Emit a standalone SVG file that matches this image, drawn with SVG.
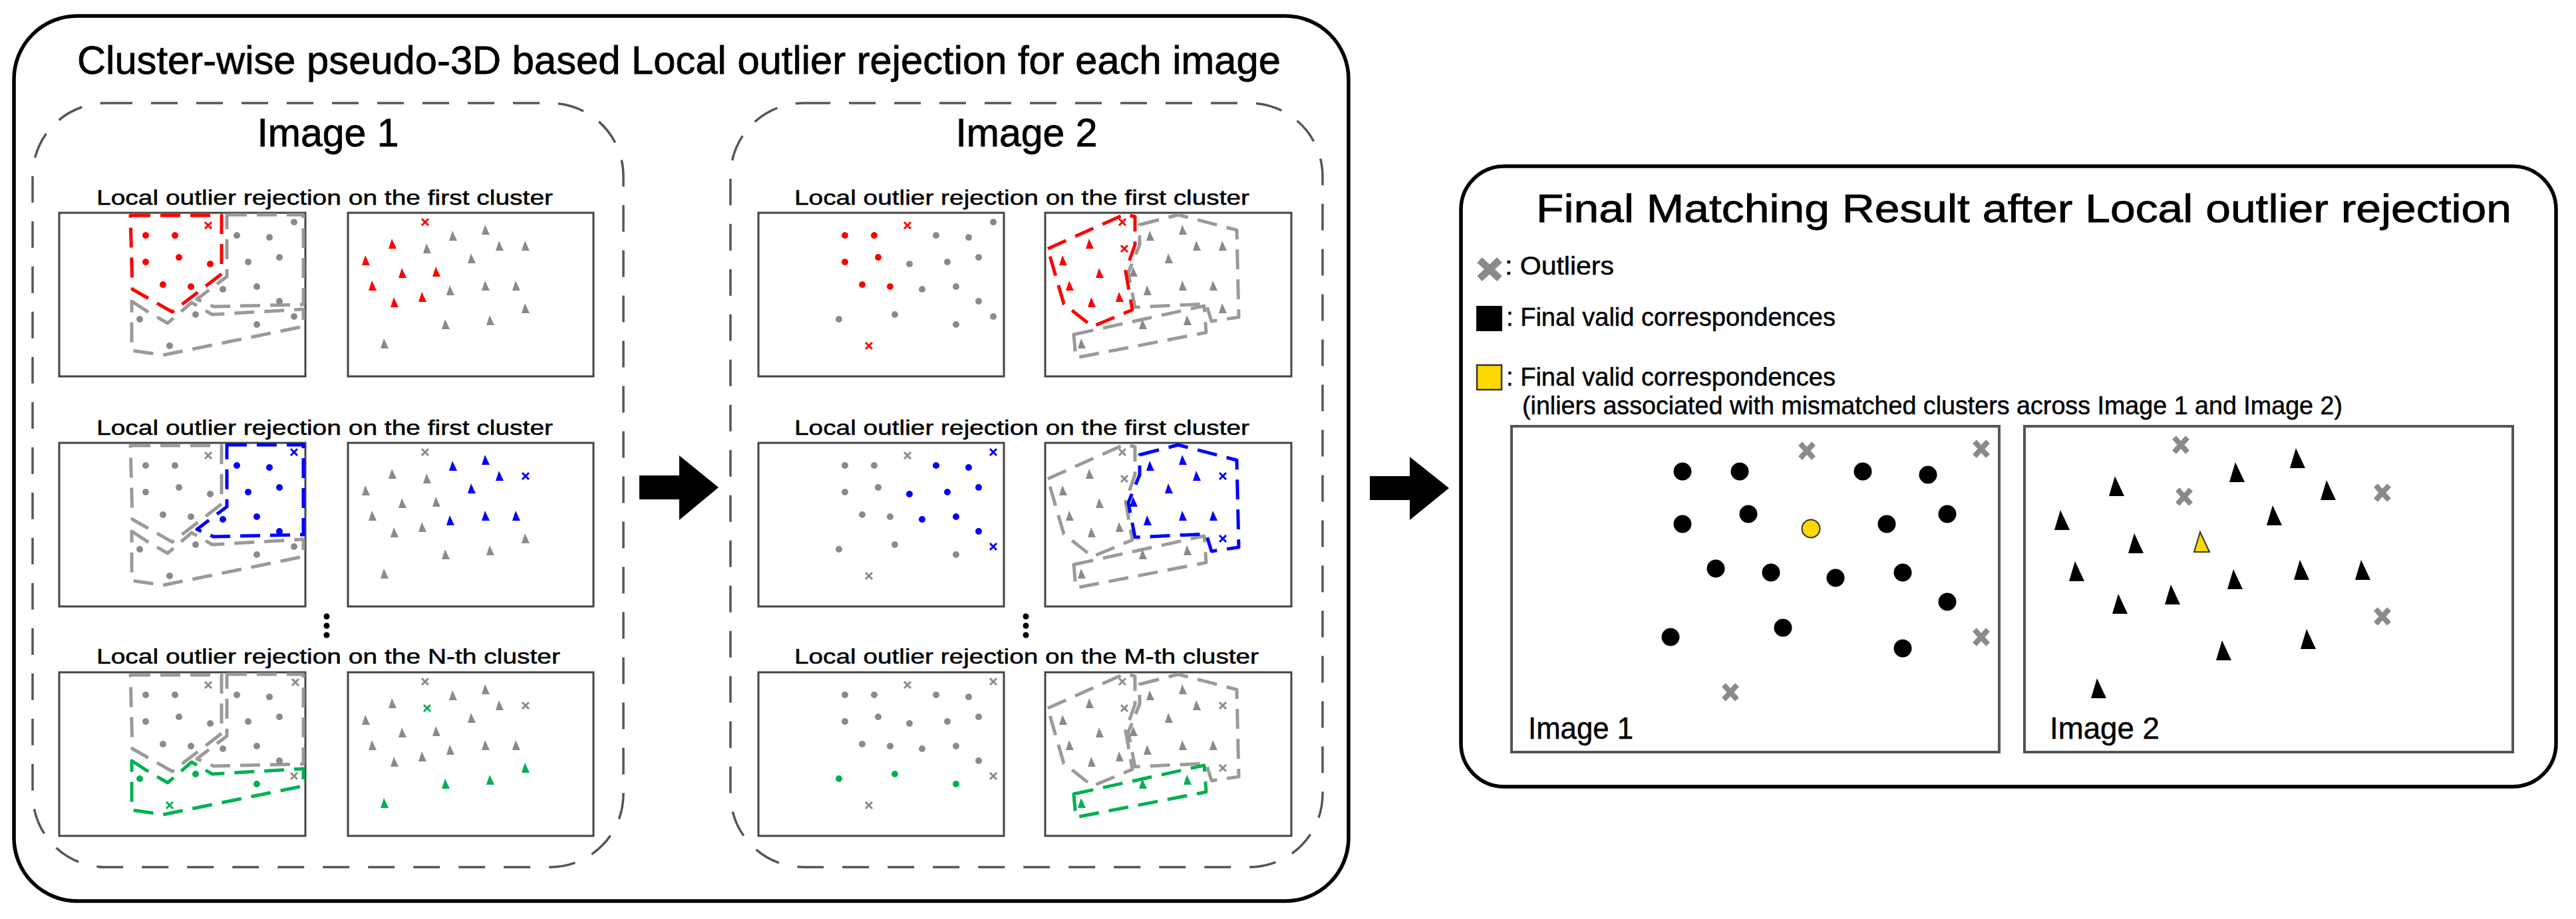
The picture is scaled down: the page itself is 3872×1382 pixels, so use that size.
<svg xmlns="http://www.w3.org/2000/svg" width="3872" height="1382" viewBox="0 0 3872 1382">
<style>
text{font-family:"Liberation Sans",Arial,sans-serif;fill:#000}
.big{font-size:59px;stroke:#000;stroke-width:0.8}
.lbl{font-size:32px;stroke:#000;stroke-width:0.5}
.leg{font-size:38px;stroke:#000;stroke-width:0.5}
.fimg{font-size:46px;stroke:#000;stroke-width:0.5}
.box{fill:none;stroke:#000;stroke-width:5.5}
.dash{fill:none;stroke:#555;stroke-width:3.5;stroke-dasharray:40 28}
.pnl{fill:#fff;stroke:#444;stroke-width:3}
.fpnl{fill:#fff;stroke:#555;stroke-width:4}
.cg{fill:#8a8a8a}.cr{fill:#ff0000}.cb{fill:#0000ff}.cn{fill:#00b050}.ck{fill:#000}
.xg{stroke:#8a8a8a}.xr{stroke:#ff0000}.xb{stroke:#0000ff}.xn{stroke:#00b050}
.pg,.pr,.pb,.pn{fill:none;stroke-width:5;stroke-dasharray:30 15;stroke-linejoin:round}
.pg{stroke:#9a9a9a}.pr{stroke:#ff0000}.pb{stroke:#0000ff}.pn{stroke:#00b050}
.arrow{fill:#000}
</style>
<defs>
<circle id="d" r="5"/>
<path id="x" d="M-5,-5L5,5M5,-5L-5,5" fill="none" stroke-width="3"/>
<path id="t" d="M-1,-8L6,7L-6,7Z"/>
<circle id="D" r="13.5"/>
<path id="T" d="M-2,-16L12,14L-11,14Z"/>
<path id="X" d="M-10,-11L10,11M10,-11L-10,11" fill="none" stroke="#8a8a8a" stroke-width="8"/>
<polygon id="c1" points="107,4 244,4 244,92 170,149 110,115"/>
<polygon id="c2" points="252,3 367,3 367,138 232,141 207,130 252,96"/>
<polygon id="cN" points="109,133 135,150 163,166 199,135 230,153 367,145 367,171 156,214 109,207"/>
<polygon id="k1" points="4,54 120,2 135,6 135,48 121,88 131,146 71,171 28,137 12,82"/>
<polygon id="k2" points="142,18 200,3 288,26 291,157 250,163 242,137 135,142 125,90 142,48"/>
<polygon id="k3" points="43,183 239,140 242,180 46,218"/>
</defs>
<rect width="3872" height="1382" fill="#fff"/>

<g id="left-box">
<rect class="box" x="21" y="24" width="2006" height="1331" rx="95" ry="95"/>
<text class="big" x="116" y="111" textLength="1809" lengthAdjust="spacingAndGlyphs">Cluster-wise pseudo-3D based Local outlier rejection for each image</text>
</g>

<g id="image1-group">
<rect class="dash" x="49" y="155" width="888" height="1149" rx="110" ry="110"/>
<text class="big" x="493" y="220" text-anchor="middle">Image 1</text>
<text class="lbl" x="145" y="308" textLength="686" lengthAdjust="spacingAndGlyphs">Local outlier rejection on the first cluster</text>
<text class="lbl" x="145" y="654" textLength="686" lengthAdjust="spacingAndGlyphs">Local outlier rejection on the first cluster</text>
<text class="lbl" x="145" y="998" textLength="697" lengthAdjust="spacingAndGlyphs">Local outlier rejection on the N-th cluster</text>
<g class="ck"><circle cx="491" cy="927" r="4.5"/><circle cx="491" cy="941" r="4.5"/><circle cx="491" cy="955" r="4.5"/></g>
</g>

<g id="img1-row1-left" transform="translate(89,320)">
<rect class="pnl" width="370" height="246"/>
<use href="#c2" class="pg"/><use href="#cN" class="pg"/><use href="#c1" class="pr"/>
<g class="cr"><use href="#d" x="130" y="34"/><use href="#d" x="174" y="34"/><use href="#d" x="130" y="74"/><use href="#d" x="180" y="67"/><use href="#d" x="227" y="77"/><use href="#d" x="156" y="108"/><use href="#d" x="198" y="111"/></g>
<g class="cg"><use href="#d" x="267" y="34"/><use href="#d" x="316" y="37"/><use href="#d" x="284" y="74"/><use href="#d" x="331" y="67"/><use href="#d" x="246" y="115"/><use href="#d" x="297" y="111"/><use href="#d" x="331" y="133"/><use href="#d" x="121" y="160"/><use href="#d" x="205" y="153"/><use href="#d" x="297" y="168"/><use href="#d" x="353" y="14"/><use href="#d" x="353" y="156"/><use href="#d" x="166" y="200"/></g>
<g class="xr"><use href="#x" x="224" y="19"/></g>
</g>

<g id="img1-row1-right" transform="translate(523,320)">
<rect class="pnl" width="369" height="246"/>
<g class="cr"><use href="#t" x="67" y="47"/><use href="#t" x="27" y="72"/><use href="#t" x="82" y="91"/><use href="#t" x="133" y="89"/><use href="#t" x="37" y="110"/><use href="#t" x="112" y="127"/><use href="#t" x="70" y="135"/></g>
<g class="cg"><use href="#t" x="207" y="26"/><use href="#t" x="158" y="35"/><use href="#t" x="228" y="50"/><use href="#t" x="186" y="69"/><use href="#t" x="207" y="110"/><use href="#t" x="253" y="110"/><use href="#t" x="154" y="117"/><use href="#t" x="214" y="162"/><use href="#t" x="147" y="168"/><use href="#t" x="55" y="197"/><use href="#t" x="119" y="54"/><use href="#t" x="267" y="50"/><use href="#t" x="267" y="144"/></g>
<g class="xr"><use href="#x" x="116" y="14"/></g>
</g>

<g id="img1-row2-left" transform="translate(89,666)">
<rect class="pnl" width="370" height="246"/>
<use href="#c1" class="pg"/><use href="#cN" class="pg"/><use href="#c2" class="pb"/>
<g class="cb"><use href="#d" x="267" y="34"/><use href="#d" x="316" y="37"/><use href="#d" x="284" y="74"/><use href="#d" x="331" y="67"/><use href="#d" x="246" y="115"/><use href="#d" x="297" y="111"/><use href="#d" x="331" y="133"/></g>
<g class="cg"><use href="#d" x="130" y="34"/><use href="#d" x="174" y="34"/><use href="#d" x="130" y="74"/><use href="#d" x="180" y="67"/><use href="#d" x="227" y="77"/><use href="#d" x="156" y="108"/><use href="#d" x="198" y="111"/><use href="#d" x="121" y="160"/><use href="#d" x="205" y="153"/><use href="#d" x="297" y="168"/><use href="#d" x="353" y="156"/><use href="#d" x="166" y="200"/></g>
<g class="xg"><use href="#x" x="224" y="19"/></g>
<g class="xb"><use href="#x" x="353" y="14"/></g>
</g>

<g id="img1-row2-right" transform="translate(523,666)">
<rect class="pnl" width="369" height="246"/>
<g class="cb"><use href="#t" x="207" y="26"/><use href="#t" x="158" y="35"/><use href="#t" x="228" y="50"/><use href="#t" x="186" y="69"/><use href="#t" x="207" y="110"/><use href="#t" x="253" y="110"/><use href="#t" x="154" y="117"/></g>
<g class="cg"><use href="#t" x="67" y="47"/><use href="#t" x="27" y="72"/><use href="#t" x="82" y="91"/><use href="#t" x="133" y="89"/><use href="#t" x="37" y="110"/><use href="#t" x="112" y="127"/><use href="#t" x="70" y="135"/><use href="#t" x="214" y="162"/><use href="#t" x="147" y="168"/><use href="#t" x="55" y="197"/><use href="#t" x="119" y="54"/><use href="#t" x="267" y="144"/></g>
<g class="xg"><use href="#x" x="116" y="14"/></g>
<g class="xb"><use href="#x" x="267" y="50"/></g>
</g>

<g id="img1-rowN-left" transform="translate(89,1011)">
<rect class="pnl" width="370" height="246"/>
<use href="#c1" class="pg"/><use href="#c2" class="pg"/><use href="#cN" class="pn"/>
<g class="cn"><use href="#d" x="121" y="160"/><use href="#d" x="205" y="153"/><use href="#d" x="297" y="168"/></g>
<g class="cg"><use href="#d" x="130" y="34"/><use href="#d" x="174" y="34"/><use href="#d" x="267" y="34"/><use href="#d" x="316" y="37"/><use href="#d" x="130" y="74"/><use href="#d" x="180" y="67"/><use href="#d" x="227" y="77"/><use href="#d" x="284" y="74"/><use href="#d" x="331" y="67"/><use href="#d" x="156" y="108"/><use href="#d" x="198" y="111"/><use href="#d" x="246" y="115"/><use href="#d" x="297" y="111"/><use href="#d" x="331" y="133"/></g>
<g class="xg"><use href="#x" x="224" y="19"/><use href="#x" x="355" y="15"/><use href="#x" x="353" y="156"/></g>
<g class="xn"><use href="#x" x="166" y="200"/></g>
</g>

<g id="img1-rowN-right" transform="translate(523,1011)">
<rect class="pnl" width="369" height="246"/>
<g class="cn"><use href="#t" x="214" y="162"/><use href="#t" x="147" y="168"/><use href="#t" x="55" y="197"/><use href="#t" x="267" y="144"/></g>
<g class="cg"><use href="#t" x="207" y="26"/><use href="#t" x="158" y="35"/><use href="#t" x="67" y="47"/><use href="#t" x="228" y="50"/><use href="#t" x="27" y="72"/><use href="#t" x="186" y="69"/><use href="#t" x="82" y="91"/><use href="#t" x="133" y="89"/><use href="#t" x="37" y="110"/><use href="#t" x="207" y="110"/><use href="#t" x="253" y="110"/><use href="#t" x="154" y="117"/><use href="#t" x="112" y="127"/><use href="#t" x="70" y="135"/></g>
<g class="xg"><use href="#x" x="116" y="14"/><use href="#x" x="267" y="50"/></g>
<g class="xn"><use href="#x" x="119" y="54"/></g>
</g>

<g id="image2-group">
<rect class="dash" x="1098" y="155" width="890" height="1149" rx="110" ry="110"/>
<text class="big" x="1543" y="220" text-anchor="middle">Image 2</text>
<text class="lbl" x="1194" y="308" textLength="684" lengthAdjust="spacingAndGlyphs">Local outlier rejection on the first cluster</text>
<text class="lbl" x="1194" y="654" textLength="684" lengthAdjust="spacingAndGlyphs">Local outlier rejection on the first cluster</text>
<text class="lbl" x="1194" y="998" textLength="698" lengthAdjust="spacingAndGlyphs">Local outlier rejection on the M-th cluster</text>
<g class="ck"><circle cx="1542" cy="927" r="4.5"/><circle cx="1542" cy="941" r="4.5"/><circle cx="1542" cy="955" r="4.5"/></g>
</g>

<g id="img2-row1-left" transform="translate(1140,320)">
<rect class="pnl" width="369" height="246"/>
<g class="cr"><use href="#d" x="130" y="34"/><use href="#d" x="174" y="34"/><use href="#d" x="130" y="74"/><use href="#d" x="180" y="67"/><use href="#d" x="156" y="108"/><use href="#d" x="198" y="111"/></g>
<g class="cg"><use href="#d" x="267" y="34"/><use href="#d" x="316" y="37"/><use href="#d" x="227" y="77"/><use href="#d" x="284" y="74"/><use href="#d" x="331" y="67"/><use href="#d" x="246" y="115"/><use href="#d" x="297" y="111"/><use href="#d" x="331" y="133"/><use href="#d" x="121" y="160"/><use href="#d" x="205" y="153"/><use href="#d" x="297" y="168"/><use href="#d" x="353" y="14"/><use href="#d" x="353" y="156"/></g>
<g class="xr"><use href="#x" x="224" y="19"/><use href="#x" x="166" y="200"/></g>
</g>

<g id="img2-row1-right" transform="translate(1571,320)">
<rect class="pnl" width="370" height="246"/>
<use href="#k2" class="pg"/><use href="#k3" class="pg"/><use href="#k1" class="pr"/>
<g class="cr"><use href="#t" x="67" y="47"/><use href="#t" x="27" y="72"/><use href="#t" x="82" y="91"/><use href="#t" x="37" y="110"/><use href="#t" x="112" y="127"/><use href="#t" x="70" y="135"/></g>
<g class="cg"><use href="#t" x="207" y="26"/><use href="#t" x="158" y="35"/><use href="#t" x="228" y="50"/><use href="#t" x="186" y="69"/><use href="#t" x="133" y="89"/><use href="#t" x="207" y="110"/><use href="#t" x="253" y="110"/><use href="#t" x="154" y="117"/><use href="#t" x="214" y="162"/><use href="#t" x="147" y="168"/><use href="#t" x="55" y="197"/><use href="#t" x="267" y="50"/><use href="#t" x="267" y="144"/></g>
<g class="xr"><use href="#x" x="116" y="14"/><use href="#x" x="119" y="54"/></g>
</g>

<g id="img2-row2-left" transform="translate(1140,666)">
<rect class="pnl" width="369" height="246"/>
<g class="cb"><use href="#d" x="267" y="34"/><use href="#d" x="316" y="37"/><use href="#d" x="227" y="77"/><use href="#d" x="284" y="74"/><use href="#d" x="331" y="67"/><use href="#d" x="246" y="115"/><use href="#d" x="297" y="111"/><use href="#d" x="331" y="133"/></g>
<g class="cg"><use href="#d" x="130" y="34"/><use href="#d" x="174" y="34"/><use href="#d" x="130" y="74"/><use href="#d" x="180" y="67"/><use href="#d" x="156" y="108"/><use href="#d" x="198" y="111"/><use href="#d" x="121" y="160"/><use href="#d" x="205" y="153"/><use href="#d" x="297" y="168"/></g>
<g class="xb"><use href="#x" x="353" y="14"/><use href="#x" x="353" y="156"/></g>
<g class="xg"><use href="#x" x="224" y="19"/><use href="#x" x="166" y="200"/></g>
</g>

<g id="img2-row2-right" transform="translate(1571,666)">
<rect class="pnl" width="370" height="246"/>
<use href="#k1" class="pg"/><use href="#k3" class="pg"/><use href="#k2" class="pb"/>
<g class="cb"><use href="#t" x="207" y="26"/><use href="#t" x="158" y="35"/><use href="#t" x="228" y="50"/><use href="#t" x="186" y="69"/><use href="#t" x="133" y="89"/><use href="#t" x="207" y="110"/><use href="#t" x="253" y="110"/><use href="#t" x="154" y="117"/></g>
<g class="cg"><use href="#t" x="67" y="47"/><use href="#t" x="27" y="72"/><use href="#t" x="82" y="91"/><use href="#t" x="37" y="110"/><use href="#t" x="112" y="127"/><use href="#t" x="70" y="135"/><use href="#t" x="214" y="162"/><use href="#t" x="147" y="168"/><use href="#t" x="55" y="197"/></g>
<g class="xb"><use href="#x" x="267" y="50"/><use href="#x" x="267" y="144"/></g>
<g class="xg"><use href="#x" x="116" y="14"/><use href="#x" x="119" y="54"/></g>
</g>

<g id="img2-rowM-left" transform="translate(1140,1011)">
<rect class="pnl" width="369" height="246"/>
<g class="cn"><use href="#d" x="121" y="160"/><use href="#d" x="205" y="153"/><use href="#d" x="297" y="168"/></g>
<g class="cg"><use href="#d" x="130" y="34"/><use href="#d" x="174" y="34"/><use href="#d" x="267" y="34"/><use href="#d" x="316" y="37"/><use href="#d" x="130" y="74"/><use href="#d" x="180" y="67"/><use href="#d" x="227" y="77"/><use href="#d" x="284" y="74"/><use href="#d" x="331" y="67"/><use href="#d" x="156" y="108"/><use href="#d" x="198" y="111"/><use href="#d" x="246" y="115"/><use href="#d" x="297" y="111"/><use href="#d" x="331" y="133"/></g>
<g class="xg"><use href="#x" x="224" y="19"/><use href="#x" x="353" y="14"/><use href="#x" x="353" y="156"/><use href="#x" x="166" y="200"/></g>
</g>

<g id="img2-rowM-right" transform="translate(1571,1011)">
<rect class="pnl" width="370" height="246"/>
<use href="#k1" class="pg"/><use href="#k2" class="pg"/><use href="#k3" class="pn"/>
<g class="cn"><use href="#t" x="214" y="162"/><use href="#t" x="147" y="168"/><use href="#t" x="55" y="197"/></g>
<g class="cg"><use href="#t" x="207" y="26"/><use href="#t" x="158" y="35"/><use href="#t" x="67" y="47"/><use href="#t" x="228" y="50"/><use href="#t" x="27" y="72"/><use href="#t" x="186" y="69"/><use href="#t" x="82" y="91"/><use href="#t" x="133" y="89"/><use href="#t" x="37" y="110"/><use href="#t" x="207" y="110"/><use href="#t" x="253" y="110"/><use href="#t" x="154" y="117"/><use href="#t" x="112" y="127"/><use href="#t" x="70" y="135"/></g>
<g class="xg"><use href="#x" x="116" y="14"/><use href="#x" x="119" y="54"/><use href="#x" x="267" y="50"/><use href="#x" x="267" y="144"/></g>
</g>

<g id="right-box">
<rect class="box" x="2196" y="250" width="1646" height="933" rx="65" ry="65"/>
<text class="big" x="2309" y="334" textLength="1466" lengthAdjust="spacingAndGlyphs">Final Matching Result after Local outlier rejection</text>
</g>

<g id="legend">
<path d="M-15,-14L15,14M15,-14L-15,14" transform="translate(2239,405)" fill="none" stroke="#8a8a8a" stroke-width="11"/>
<text class="leg" x="2262" y="413" textLength="164" lengthAdjust="spacingAndGlyphs">: Outliers</text>
<rect x="2219" y="460" width="39" height="38" fill="#000"/>
<text class="leg" x="2264" y="490" textLength="495" lengthAdjust="spacingAndGlyphs">: Final valid correspondences</text>
<rect x="2220" y="549" width="37" height="37" fill="#ffd800" stroke="#333" stroke-width="2.5"/>
<text class="leg" x="2264" y="580" textLength="495" lengthAdjust="spacingAndGlyphs">: Final valid correspondences</text>
<text class="leg" x="2288" y="623" textLength="1233" lengthAdjust="spacingAndGlyphs">(inliers associated with mismatched clusters across Image 1 and Image 2)</text>
</g>

<g id="final-image1">
<rect class="fpnl" x="2272" y="641" width="733" height="490"/>
<g class="ck"><use href="#D" x="2529" y="709"/><use href="#D" x="2615" y="709"/><use href="#D" x="2800" y="709"/><use href="#D" x="2898" y="714"/><use href="#D" x="2529" y="788"/><use href="#D" x="2628" y="773"/><use href="#D" x="2836" y="788"/><use href="#D" x="2927" y="773"/><use href="#D" x="2579" y="855"/><use href="#D" x="2662" y="861"/><use href="#D" x="2759" y="869"/><use href="#D" x="2860" y="861"/><use href="#D" x="2927" y="905"/><use href="#D" x="2511" y="958"/><use href="#D" x="2680" y="944"/><use href="#D" x="2860" y="975"/></g>
<use href="#D" x="2722" y="795" fill="#ffd800" stroke="#333" stroke-width="2"/>
<use href="#X" x="2716" y="678"/><use href="#X" x="2978" y="675"/><use href="#X" x="2978" y="958"/><use href="#X" x="2601" y="1041"/>
<text class="fimg" x="2297" y="1111" textLength="158" lengthAdjust="spacingAndGlyphs">Image 1</text>
</g>

<g id="final-image2">
<rect class="fpnl" x="3043" y="641" width="734" height="490"/>
<g class="ck"><use href="#T" x="3453" y="690"/><use href="#T" x="3362" y="711"/><use href="#T" x="3181" y="732"/><use href="#T" x="3499" y="738"/><use href="#T" x="3099" y="783"/><use href="#T" x="3418" y="776"/><use href="#T" x="3210" y="818"/><use href="#T" x="3121" y="860"/><use href="#T" x="3459" y="858"/><use href="#T" x="3551" y="858"/><use href="#T" x="3359" y="872"/><use href="#T" x="3265" y="895"/><use href="#T" x="3186" y="909"/><use href="#T" x="3469" y="962"/><use href="#T" x="3342" y="979"/><use href="#T" x="3154" y="1036"/></g>
<use href="#T" x="3309" y="816" fill="#ffd800" stroke="#333" stroke-width="2"/>
<use href="#X" x="3278" y="669"/><use href="#X" x="3283" y="747"/><use href="#X" x="3581" y="741"/><use href="#X" x="3581" y="927"/>
<text class="fimg" x="3081" y="1111" textLength="165" lengthAdjust="spacingAndGlyphs">Image 2</text>
</g>

<g id="connectors">
<polygon class="arrow" points="961,715 1021,715 1021,685 1080,733 1021,782 1021,751 961,751"/>
<polygon class="arrow" points="2059,716 2119,716 2119,687 2178,734 2119,782 2119,752 2059,752"/>
</g>
</svg>
